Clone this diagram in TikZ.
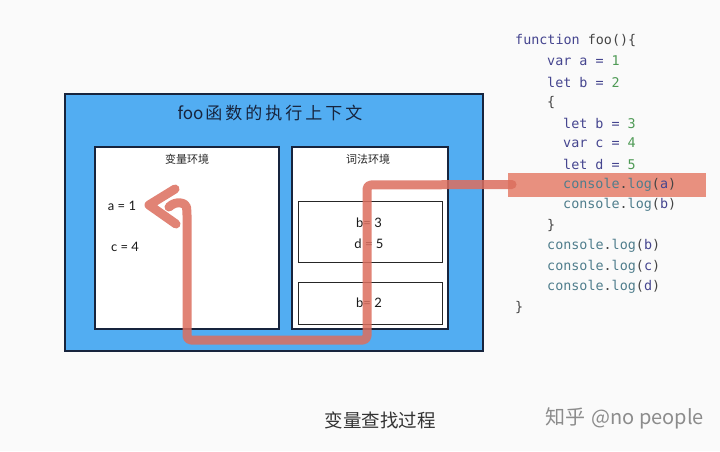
\documentclass[tikz,border=0pt]{standalone}
\usepackage{fontspec}
\setmainfont{Noto Sans CJK SC}
\newfontfamily\codefont{DejaVu Sans Mono}
\newfontfamily\latinfont{Lato}
\usetikzlibrary{positioning}
\definecolor{bgc}{HTML}{FAFAFA}
\definecolor{ctxblue}{HTML}{52ADF2}
\definecolor{navy}{HTML}{17243D}
\definecolor{redpath}{HTML}{DC6E5E}
\definecolor{hlred}{HTML}{E8907F}
\definecolor{kw}{HTML}{45458F}
\definecolor{num}{HTML}{4E9A55}
\definecolor{cons}{HTML}{4F7D8C}
\definecolor{punc}{HTML}{444444}
\begin{document}
\begin{tikzpicture}[x=1pt,y=-1pt,
  envbox/.style={draw=navy,line width=1.1pt,fill=white,inner sep=0pt},
  innerbox/.style={draw=black!85,line width=0.9pt,inner sep=0pt},
  codeline/.style={anchor=west,inner sep=0pt,font=\codefont\fontsize{13.4}{14}\selectfont},
  lbl/.style={inner sep=0pt,font=\fontsize{11}{12}\selectfont,text=black!85},
  var/.style={inner sep=0pt,font=\latinfont\fontsize{13}{14}\selectfont,text=black!90},
  redline/.style={draw=redpath,line width=9pt,line cap=round,line join=round,opacity=0.85}]
\useasboundingbox[fill=bgc] (0,0) rectangle (720,451);
% highlight
\node[fill=hlred,minimum width=198pt,minimum height=24pt,inner sep=0pt,anchor=west] (hl) at (508,184.5) {};
% context box
\node[fill=ctxblue,draw=navy,line width=1.6pt,minimum width=418pt,minimum height=257pt,inner sep=0pt] (ctx) at (274,222.5) {};
\node[inner sep=0pt,font=\fontsize{17}{18}\selectfont,text=navy] (title) at (270,113) {foo\hspace{2pt}函\hspace{3pt}数\hspace{3pt}的\hspace{3pt}执\hspace{3pt}行\hspace{3pt}上\hspace{3pt}下\hspace{3pt}文};
\node[envbox,minimum width=184pt,minimum height=182pt] (venv) at (187,238) {};
\node[envbox,minimum width=156pt,minimum height=182pt] (lenv) at (370,238) {};
\node[lbl] (vlbl) at (187,159) {变量环境};
\node[lbl] (llbl) at (368,159) {词法环境};
\node[innerbox,minimum width=144pt,minimum height=61pt] (blk) at (370,231.5) {};
\node[innerbox,minimum width=144pt,minimum height=42pt] (fnb) at (370,303) {};
\node[var] (va) at (122,206) {a = 1};
\node[var] (vc) at (125,247) {c = 4};
\node[var] (vb3) at (369,223) {b= 3};
\node[var] (vd5) at (369,244) {d = 5};
\node[var] (vb2) at (369,303) {b= 2};
% code
\node[codeline] (l1) at (515,40) {\textcolor{kw}{function} \textcolor{punc}{foo()\{}};
\node[codeline] (l2) at (547,61) {\textcolor{kw}{var a =} \textcolor{num}{1}};
\node[codeline] (l3) at (547,82) {\textcolor{kw}{let b =} \textcolor{num}{2}};
\node[codeline] (l4) at (547,102) {\textcolor{punc}{\{}};
\node[codeline] (l5) at (563,123) {\textcolor{kw}{let b =} \textcolor{num}{3}};
\node[codeline] (l6) at (563,143) {\textcolor{kw}{var c =} \textcolor{num}{4}};
\node[codeline] (l7) at (563,164) {\textcolor{kw}{let d =} \textcolor{num}{5}};
\node[codeline] (l8) at (563,185) {\textcolor{cons}{console}\textcolor{punc}{.}\textcolor{cons}{log}\textcolor{punc}{(}\textcolor{kw}{a}\textcolor{punc}{)}};
\node[codeline] (l9) at (563,205) {\textcolor{cons}{console}\textcolor{punc}{.}\textcolor{cons}{log}\textcolor{punc}{(}\textcolor{kw}{b}\textcolor{punc}{)}};
\node[codeline] (l10) at (547,225) {\textcolor{punc}{\}}};
\node[codeline] (l11) at (547,246) {\textcolor{cons}{console}\textcolor{punc}{.}\textcolor{cons}{log}\textcolor{punc}{(}\textcolor{kw}{b}\textcolor{punc}{)}};
\node[codeline] (l12) at (547,267) {\textcolor{cons}{console}\textcolor{punc}{.}\textcolor{cons}{log}\textcolor{punc}{(}\textcolor{kw}{c}\textcolor{punc}{)}};
\node[codeline] (l13) at (547,287) {\textcolor{cons}{console}\textcolor{punc}{.}\textcolor{cons}{log}\textcolor{punc}{(}\textcolor{kw}{d}\textcolor{punc}{)}};
\node[codeline] (l14) at (515,307) {\textcolor{punc}{\}}};
% red lookup path
\coordinate (p1) at (367,185);
\coordinate (p2) at (367,340);
\coordinate (p3) at (187,340);
\coordinate (p4) at (187,211);
\coordinate (tip) at (149,205);
\coordinate (armU) at (175,189);
\coordinate (armL) at (176,224);
\draw[redline,rounded corners=4pt] ([xshift=4pt]hl.west) -- (p1) -- (p2) -- (p3) -- (p4)
  .. controls (186,203) and (176,200) .. (169,207);
\draw[redline] (armU) -- (tip) -- (armL);
% captions
\node[inner sep=0pt,font=\fontsize{18.5}{20}\selectfont,text=black!80] (cap) at (380,420) {变量查找过程};
\node[inner sep=0pt,font=\fontsize{20}{22}\selectfont,text=black!45,anchor=east] (wm) at (704,418) {知乎\hspace{6pt}@no people};
\end{tikzpicture}
\end{document}
